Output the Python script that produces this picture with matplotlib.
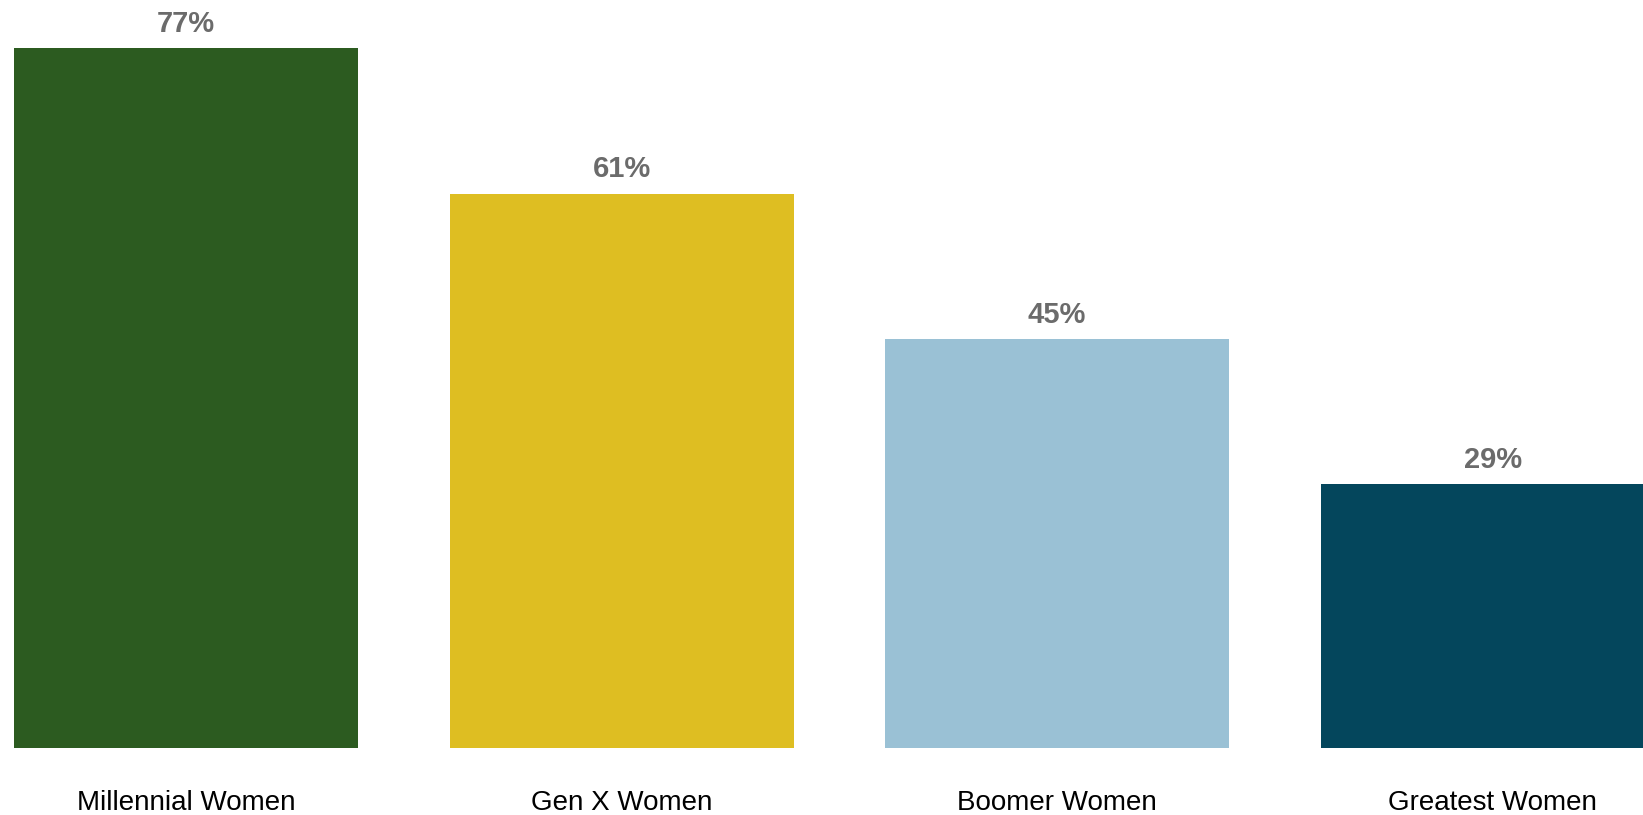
import matplotlib.pyplot as plt

# Share of women by generation
groups = ["Millennial Women", "Gen X Women", "Boomer Women", "Greatest Women"]
shares = [77, 61, 45, 29]
colors = ["#2C5B20", "#DEBE22", "#9AC1D5", "#04465C"]

plt.rcParams["font.family"] = ["Liberation Sans", "DejaVu Sans"]

fig = plt.figure(figsize=(16.43, 8.15), dpi=100)
ax = fig.add_axes([0, 0.0822, 1, 0.9178])

x = range(len(groups))
bars = ax.bar(x, shares, width=0.79, color=colors)

for bar, val in zip(bars, shares):
    ax.annotate(f"{val}%", (bar.get_x() + bar.get_width() / 2, val),
                xytext=(0, 17.5), textcoords="offset points",
                ha="center", va="center", fontsize=21, fontweight="bold",
                color="#6B6B6B")

ax.set_xlim(-0.427, 3.345)
ax.set_ylim(0, 82.3)
ax.set_xticks(list(x))
ax.set_xticklabels(groups, fontsize=20, color="black")
ax.tick_params(axis="x", length=0, pad=30.5)
ax.set_yticks([])
for s in ax.spines.values():
    s.set_visible(False)

fig.savefig("out.png", dpi=100)
